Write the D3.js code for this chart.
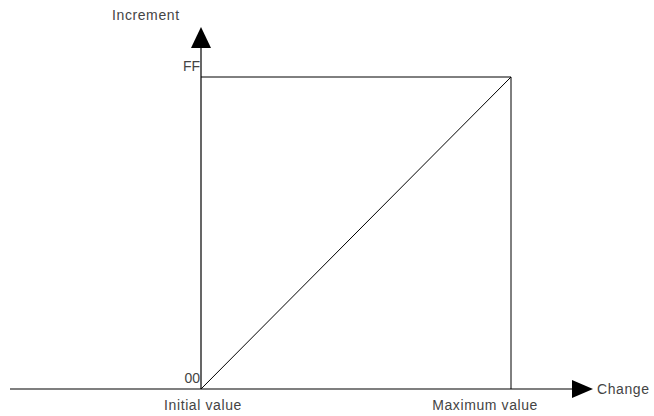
<!DOCTYPE html>
<html>
<head>
<meta charset="utf-8">
<script src="https://cdn.jsdelivr.net/npm/d3@7"></script>
<style>
  body { margin: 0; background: #fff; }
  text { font-family: "Liberation Sans", Arial, sans-serif; fill: #444; font-size: 14px; letter-spacing: 0.6px; }
</style>
</head>
<body>
<div id="chart"></div>
<script>
// data
var xLabels = ["Initial value", "Maximum value"];
var xValues = [0, 255];
var yLabels = ["00", "FF"];
var yValues = [0, 255];
var rampPoints = [[0, 0], [255, 255]];
var xTitle = "Change";
var yTitle = "Increment";

// graph dimensions
var svgWidth = 654;
var svgHeight = 416;

var svg = d3.select("#chart")
  .append("svg")
  .attr("width", svgWidth)
  .attr("height", svgHeight);

// scales
var xScale = d3.scaleLinear().domain([0, 255]).range([201, 511]);
var yScale = d3.scaleLinear().domain([0, 255]).range([389, 77]);

var x0 = xScale(0), y0 = yScale(0);

// axes lines
svg.append("line")
  .attr("x1", 10).attr("y1", y0)
  .attr("x2", 575).attr("y2", y0)
  .attr("stroke", "#000").attr("stroke-width", 1.2);

svg.append("line")
  .attr("x1", x0).attr("y1", y0)
  .attr("x2", x0).attr("y2", 46)
  .attr("stroke", "#000").attr("stroke-width", 1.2);

// arrow heads
svg.append("path")
  .attr("d", `M${x0 - 10},48 L${x0},27 L${x0 + 10},48 Z`)
  .attr("fill", "#000");

svg.append("path")
  .attr("d", `M572,${y0 - 9} L593,${y0} L572,${y0 + 9} Z`)
  .attr("fill", "#000");

// box at max value
svg.append("line")
  .attr("x1", x0).attr("y1", yScale(255))
  .attr("x2", xScale(255)).attr("y2", yScale(255))
  .attr("stroke", "#000").attr("stroke-width", 1);

svg.append("line")
  .attr("x1", xScale(255)).attr("y1", yScale(255))
  .attr("x2", xScale(255)).attr("y2", y0)
  .attr("stroke", "#000").attr("stroke-width", 1);

// ramp
var line = d3.line()
  .x(d => xScale(d[0]))
  .y(d => yScale(d[1]));

svg.append("path")
  .datum(rampPoints)
  .attr("d", line)
  .attr("fill", "none")
  .attr("stroke", "#000")
  .attr("stroke-width", 1);

// x labels (the max label sits left of its line, as in the original)
svg.selectAll(".xlab")
  .data(xValues)
  .enter()
  .append("text")
  .attr("x", (d, i) => i === 0 ? xScale(d) + 2 : xScale(d) + 27)
  .attr("y", 410)
  .attr("text-anchor", (d, i) => i === 0 ? "middle" : "end")
  .text((d, i) => xLabels[i]);

// y labels
svg.selectAll(".ylab")
  .data(yValues)
  .enter()
  .append("text")
  .attr("x", x0 - 1)
  .attr("y", d => yScale(d) - 6)
  .attr("text-anchor", "end")
  .style("letter-spacing", "0px")
  .text((d, i) => yLabels[i]);

// axis titles
svg.append("text")
  .attr("x", 597)
  .attr("y", y0 + 5)
  .text(xTitle);

svg.append("text")
  .attr("x", 112)
  .attr("y", 20)
  .text(yTitle);
</script>
</body>
</html>
